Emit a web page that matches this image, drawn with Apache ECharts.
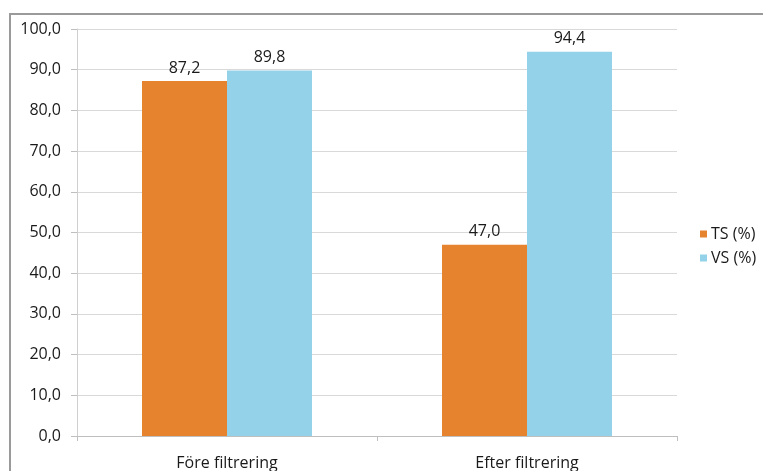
<!DOCTYPE html>
<html>
<head>
<meta charset="utf-8">
<script src="https://cdn.jsdelivr.net/npm/echarts@6/dist/echarts.min.js"></script>
<style>
  html, body { margin: 0; padding: 0; background: #fff; }
  #chart { width: 763px; height: 471px; }
</style>
</head>
<body>
<div id="chart"></div>
<script>
// Categories and series values
const categories = ['Före filtrering', 'Efter filtrering'];
const tsValues = [87.2, 47.0];
const vsValues = [89.8, 94.4];
const seriesNames = ['TS (%)', 'VS (%)'];

const fmt = v => v.toFixed(1).replace('.', ',');
const font = '"Open Sans", "Liberation Sans", sans-serif';
const textColor = '#1a1a1a';

const chart = echarts.init(document.getElementById('chart'));
chart.setOption({
  backgroundColor: '#fff',
  animation: false,
  graphic: [
    { type: 'polyline', shape: { points: [[10, 471], [10, 14], [763, 14]] },
      style: { stroke: '#9a9a9a', lineWidth: 2, fill: null } }
  ],
  grid: { left: 77, right: 86, top: 29, bottom: 33 },
  legend: {
    orient: 'vertical', left: 695, top: 221, itemWidth: 7, itemHeight: 7, itemGap: 8,
    icon: 'rect',
    textStyle: { fontFamily: font, fontSize: 16, color: textColor, padding: [0, 0, 0, -1] },
    data: seriesNames
  },
  xAxis: {
    type: 'category', data: categories,
    axisLine: { lineStyle: { color: '#bfbfbf' } },
    axisTick: { show: true, length: 5, lineStyle: { color: '#bfbfbf' } },
    axisLabel: { fontFamily: font, fontSize: 16, color: textColor, margin: 19 }
  },
  yAxis: {
    type: 'value', min: 0, max: 100, interval: 10,
    axisLine: { show: true, lineStyle: { color: '#cfcfcf' } },
    axisTick: { show: true, length: 6, inside: false, lineStyle: { color: '#bfbfbf' } },
    axisLabel: { fontFamily: font, fontSize: 16, color: textColor, margin: 16, formatter: fmt },
    splitLine: { lineStyle: { color: '#d9d9d9' } }
  },
  series: [
    { name: seriesNames[0], type: 'bar', data: tsValues, barWidth: 85, barGap: '0%',
      itemStyle: { color: '#E6832F' },
      label: { show: true, position: 'top', distance: 5, fontFamily: font, fontSize: 16, color: textColor, formatter: p => fmt(p.value) } },
    { name: seriesNames[1], type: 'bar', data: vsValues, barWidth: 85, barGap: '0%',
      itemStyle: { color: '#93D2E8' },
      label: { show: true, position: 'top', distance: 5, fontFamily: font, fontSize: 16, color: textColor, formatter: p => fmt(p.value) } }
  ]
});
</script>
</body>
</html>
